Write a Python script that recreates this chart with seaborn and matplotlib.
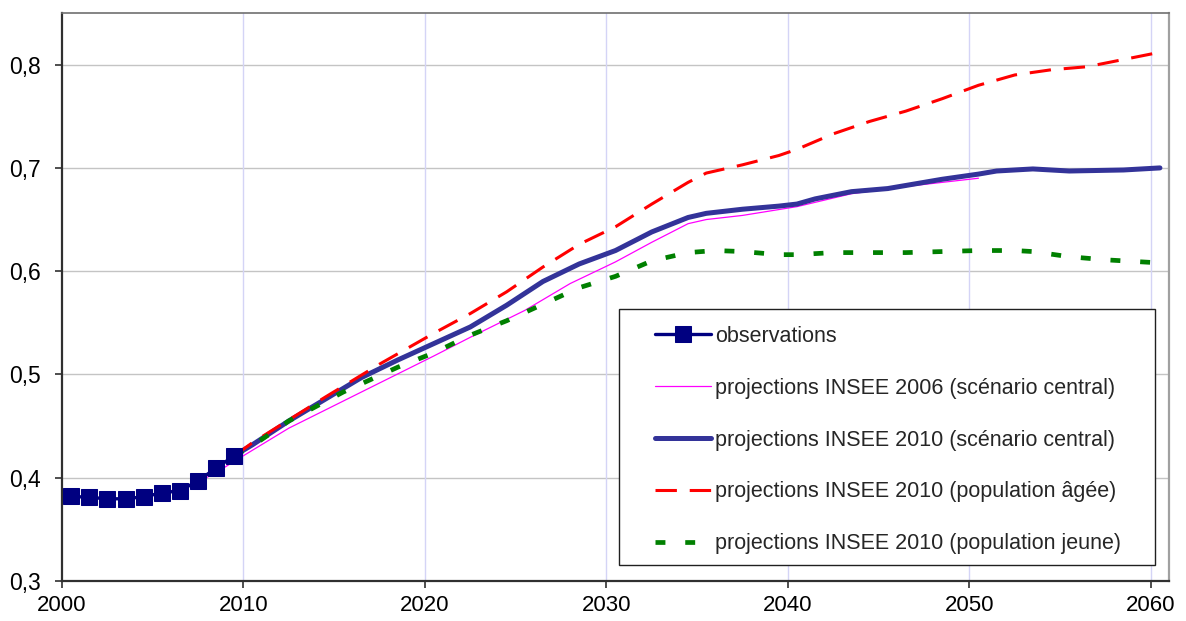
import matplotlib
matplotlib.use("Agg")
import matplotlib.pyplot as plt
import matplotlib.ticker as mticker
from matplotlib.patches import Rectangle
import seaborn as sns
import pandas as pd

# ---- data ----
obs_years = [2000.5, 2001.5, 2002.5, 2003.5, 2004.5, 2005.5, 2006.5, 2007.5, 2008.5, 2009.5]
obs_values = [0.382, 0.381, 0.3796, 0.3796, 0.3816, 0.3853, 0.3874, 0.3971, 0.4094, 0.4214]

p2006_years = [2005.5, 2006.5, 2007.5, 2008.5, 2009.5, 2012.5, 2016.5, 2020.5, 2022.5, 2025.5,
               2028.0, 2030.5, 2032.5, 2034.5, 2035.5, 2037.5, 2040.5, 2043.5, 2046.5, 2050.5]
p2006_values = [0.386, 0.389, 0.396, 0.405, 0.416, 0.448, 0.483, 0.518, 0.536, 0.562,
                0.588, 0.609, 0.628, 0.646, 0.650, 0.654, 0.6625, 0.675, 0.682, 0.690]

central_years = [2009.5, 2010.5, 2012.5, 2014.5, 2016.5, 2018.5, 2020.5, 2022.5, 2024.5, 2026.5,
                 2028.5, 2030.5, 2032.5, 2034.5, 2035.5, 2037.5, 2039.5, 2040.5, 2041.5, 2043.5,
                 2045.5, 2046.5, 2048.5, 2050.5, 2051.5, 2053.5, 2055.5, 2058.5, 2060.5]
central_values = [0.4214, 0.432, 0.455, 0.476, 0.497, 0.514, 0.530, 0.546, 0.567, 0.590,
                  0.607, 0.620, 0.638, 0.652, 0.656, 0.660, 0.663, 0.665, 0.670, 0.677,
                  0.680, 0.683, 0.689, 0.694, 0.697, 0.699, 0.697, 0.698, 0.700]

old_years = [2009.5, 2010.5, 2014.5, 2017.5, 2020.5, 2022.5, 2024.5, 2026.5, 2028.5, 2030.5,
             2032.5, 2034.5, 2035.5, 2037.5, 2039.5, 2040.5, 2042.5, 2044.5, 2046.5, 2048.5,
             2050.5, 2052.5, 2054.5, 2056.5, 2058.5, 2060.5]
old_values = [0.4214, 0.434, 0.478, 0.510, 0.540, 0.559, 0.580, 0.604, 0.626, 0.643,
              0.665, 0.686, 0.695, 0.703, 0.712, 0.718, 0.733, 0.745, 0.755, 0.767,
              0.780, 0.790, 0.795, 0.798, 0.805, 0.812]

young_years = [2009.5, 2010.5, 2012.5, 2015.5, 2018.5, 2020.5, 2022.5, 2024.5, 2026.5, 2028.5,
               2030.5, 2032.5, 2034.5, 2036.0, 2037.5, 2039.5, 2040.5, 2042.5, 2044.5, 2046.5,
               2048.5, 2050.5, 2052.5, 2053.5, 2055.5, 2057.5, 2060.5]
young_values = [0.4214, 0.431, 0.455, 0.483, 0.507, 0.521, 0.538, 0.552, 0.568, 0.584,
                0.595, 0.610, 0.618, 0.620, 0.619, 0.616, 0.616, 0.618, 0.618, 0.618,
                0.619, 0.620, 0.620, 0.619, 0.614, 0.611, 0.608]

labels = ["observations",
          "projections INSEE 2006 (scénario central)",
          "projections INSEE 2010 (scénario central)",
          "projections INSEE 2010 (population âgée)",
          "projections INSEE 2010 (population jeune)"]

x_ticks = [2000, 2010, 2020, 2030, 2040, 2050, 2060]
y_ticks = [0.3, 0.4, 0.5, 0.6, 0.7, 0.8]

# ---- style ----
sns.set_theme(style="white")
plt.rcParams['font.family'] = ['Liberation Sans', 'DejaVu Sans']

fig = plt.figure(figsize=(11.86, 6.21), dpi=100)
W, H = 1186, 621
L, R, T, B = 62, 1169, 13, 581
ax = fig.add_axes([L / W, (H - B) / H, (R - L) / W, (B - T) / H])

ax.set_xlim(2000, 2061)
ax.set_ylim(0.3, 0.85)

sns.lineplot(x=p2006_years, y=p2006_values, ax=ax, color="#ff00ff", linewidth=0.9,
             label=labels[1], zorder=3, legend=False)
sns.lineplot(x=central_years, y=central_values, ax=ax, color="#333399", linewidth=3.6,
             label=labels[2], zorder=4, legend=False)
sns.lineplot(x=old_years, y=old_values, ax=ax, color="#ff0000", linewidth=2.2,
             linestyle=(0, (7, 4.2)), label=labels[3], zorder=5, legend=False)
sns.lineplot(x=young_years, y=young_values, ax=ax, color="#008000", linewidth=3.4,
             linestyle=(0, (2.1, 4.2)), label=labels[4], zorder=5, legend=False)
sns.lineplot(x=obs_years, y=obs_values, ax=ax, color="#000080", linewidth=2.4,
             marker="s", markersize=11.5, markeredgecolor="#000080", markerfacecolor="#000080",
             label=labels[0], zorder=6, legend=False)

ax.set_yticks(y_ticks)
ax.set_xticks(x_ticks)
ax.yaxis.set_major_formatter(mticker.FuncFormatter(lambda v, p: f"{v:.1f}".replace(".", ",")))
ax.xaxis.set_major_formatter(mticker.FuncFormatter(lambda v, p: f"{int(v)}"))
ax.grid(False)
for yv in y_ticks[1:]:
    ax.axhline(yv, color="#c4c4c4", linewidth=1.0, zorder=1)
for xv in x_ticks[1:]:
    ax.axvline(xv, color="#d4d4f6", linewidth=1.0, zorder=1)

ax.tick_params(axis="both", which="major", direction="out", length=5, width=1.2,
               color="#303030", labelsize=16, labelcolor="black")
ax.tick_params(axis="x", pad=5)
ax.tick_params(axis="y", pad=10, labelsize=16.5)
ax.tick_params(bottom=True, left=True)

for s in ["left", "bottom"]:
    ax.spines[s].set_color("#303030")
    ax.spines[s].set_linewidth(1.6)
ax.spines["top"].set_color("#707070")
ax.spines["top"].set_linewidth(1.2)
ax.spines["right"].set_color("#a0a0a0")
ax.spines["right"].set_linewidth(1.6)

# legend box
lx0, lx1, ly0, ly1 = 619, 1155, 309, 565
ax.add_patch(Rectangle(((lx0 - L) / (R - L), (B - ly1) / (B - T)),
                       (lx1 - lx0) / (R - L), (ly1 - ly0) / (B - T),
                       transform=ax.transAxes, facecolor="white", edgecolor="#202020",
                       linewidth=1.0, zorder=7))

handles, labs = ax.get_legend_handles_labels()
order = [labs.index(l) for l in labels]
leg = ax.legend([handles[i] for i in order], [labs[i] for i in order],
                loc="upper left",
                bbox_to_anchor=((655 - L) / (R - L), (B - 326) / (B - T)),
                frameon=False, fontsize=15.5, handlelength=2.6, handletextpad=0.2,
                labelspacing=1.43, borderpad=0, borderaxespad=0, numpoints=1)
leg.set_zorder(8)

fig.savefig("out.png", dpi=100)
